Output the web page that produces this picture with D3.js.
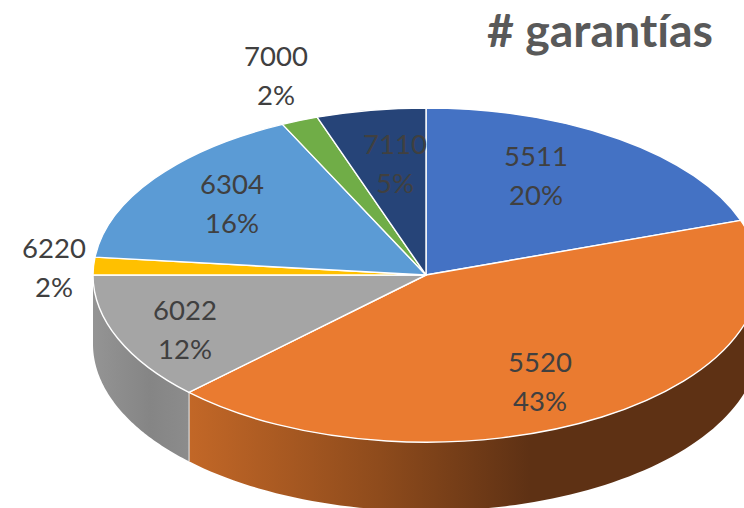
<!DOCTYPE html>
<html><head><meta charset="utf-8">
<script src="https://cdn.jsdelivr.net/npm/d3@7"></script>
<style>html,body{margin:0;padding:0;background:#fff;overflow:hidden}svg{display:block}text{font-family:Lato,"Open Sans",sans-serif;font-variant-ligatures:none}</style>
</head><body><svg id="c" width="744" height="508"></svg>
<script>
const categories = ["5511","5520","6022","6220","6304","7000","7110"];
const shares = [19.7,42.9,12.4,1.7,16.2,1.8,5.3];
const colors = ["#4472c4","#ea7b30","#a5a5a5","#ffc000","#5b9bd5","#70ad47","#264478"];
const chartTitle = "# garantías";
const labelAnchors = [[536,176],[540,382],[185,330],[54,268],[232,204],[276,76],[395,164]];
const W=744,H=508,cx=426,cy=275,rx=333,ry=167,depth=69;

const svg=d3.select("#c");
const x=d3.scaleLinear([-1,1],[cx-rx,cx+rx]);
const y=d3.scaleLinear([-1,1],[cy-ry,cy+ry]);
const arcs=d3.pie().sort(null).value(d=>d)(shares);

const defs=svg.append("defs");
function grad(id,stops){
  const g=defs.append("linearGradient").attr("id",id).attr("gradientUnits","userSpaceOnUse")
    .attr("x1",0).attr("x2",W).attr("y1",0).attr("y2",0);
  stops.forEach(s=>g.append("stop").attr("offset",s[0]/W).attr("stop-color",s[1]));
}
grad("wallOrange",[[190,"#c26727"],[380,"#8e4b1c"],[530,"#5e3114"],[744,"#5e3114"]]);
grad("wallGrey",[[93,"#949494"],[150,"#858585"],[190,"#8c8c8c"]]);

// walls: only the front half of the rim shows
const front=[Math.PI/2,Math.PI*1.5];
const wall=d3.area()
  .x(a=>x(Math.sin(a)))
  .y0(a=>y(-Math.cos(a)))
  .y1(a=>y(-Math.cos(a))+depth);
const wallFill={1:"url(#wallOrange)",2:"url(#wallGrey)"};
arcs.forEach(d=>{
  const a0=Math.max(d.startAngle,front[0]),a1=Math.min(d.endAngle,front[1]);
  if(a1<=a0) return;
  const n=80,as=d3.range(n+1).map(i=>a0+(a1-a0)*i/n);
  svg.append("path").attr("d",wall(as)).attr("fill",wallFill[d.index]||colors[d.index]);
});
// seam between the grey and orange walls
const seam=arcs[1].endAngle;
svg.append("line")
  .attr("x1",x(Math.sin(seam))).attr("x2",x(Math.sin(seam)))
  .attr("y1",y(-Math.cos(seam))).attr("y2",y(-Math.cos(seam))+depth)
  .attr("stroke","#d9d9d9").attr("stroke-width",1.2);

// top face
const arcGen=d3.arc().innerRadius(0).outerRadius(1);
svg.append("g").attr("transform",`translate(${cx},${cy}) scale(${rx},${ry})`)
  .selectAll("path").data(arcs).join("path")
  .attr("d",arcGen).attr("fill",(d,i)=>colors[i])
  .attr("stroke","#fff").attr("stroke-width",1.4)
  .attr("stroke-linejoin","round").attr("vector-effect","non-scaling-stroke");

// labels
const lab=svg.append("g").attr("text-anchor","middle").attr("fill","#404040").attr("font-size",27.5);
categories.forEach((c,i)=>{
  const [lx,ly]=labelAnchors[i];
  lab.append("text").attr("x",lx).attr("y",ly-10).text(c);
  lab.append("text").attr("x",lx).attr("y",ly+29).text(Math.round(shares[i])+"%");
});
svg.append("text").attr("x",600).attr("y",47).attr("text-anchor","middle")
  .attr("font-size",46.5).attr("font-weight",700).attr("fill","#595959").text(chartTitle);
</script></body></html>
